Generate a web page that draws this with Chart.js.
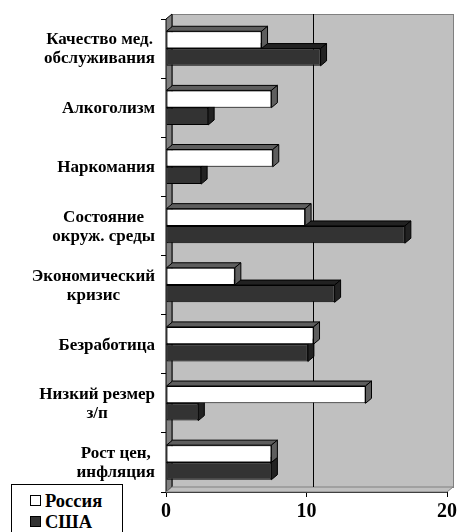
<!DOCTYPE html>
<html>
<head>
<meta charset="utf-8">
<script src="https://cdn.jsdelivr.net/npm/chart.js@4.4.1/dist/chart.umd.min.js"></script>
<style>
  html, body { margin: 0; padding: 0; background: #fff; }
  #wrap { position: relative; width: 460px; height: 532px; overflow: hidden; }
  canvas { position: absolute; left: 0; top: 0; }
  #legend { position: absolute; left: 11px; top: 484px; width: 112px; height: 60px;
    border: 1.5px solid #000; background: #fff; box-sizing: border-box;
    font: bold 18.5px "Liberation Serif", "Times New Roman", serif; color: #000; }
  .item { position: absolute; left: 18px; height: 21px; line-height: 21px; white-space: nowrap; }
  .sw { display: inline-block; width: 9px; height: 9px; border: 1px solid #000; margin-right: 4px; vertical-align: 1px; }
</style>
</head>
<body>
<div id="wrap">
  <canvas id="c" width="460" height="532"></canvas>
  <div id="legend"></div>
</div>
<script>
const categories = [
  ["Качество мед.", "обслуживания"],
  ["Алкоголизм"],
  ["Наркомания"],
  ["Состояние", "окруж. среды"],
  ["Экономический", "кризис"],
  ["Безработица"],
  ["Низкий резмер", "з/п"],
  ["Рост цен,", "инфляция"]
];
const seriesNames = ["Россия", "США"];
const russia = [6.8, 7.5, 7.6, 9.9, 4.9, 10.5, 14.2, 7.5];
const usa = [11.0, 3.0, 2.5, 17.0, 12.0, 10.1, 2.3, 7.5];
const xTicks = [0, 10, 20];

const FONT = '"Liberation Serif", "Times New Roman", serif';
const frontColors = ["#ffffff", "#333333"];
const faceColors = ["#5e5e5e", "#222222"];
const DX = 6, DY = 5;

// HTML legend
const legend = document.getElementById('legend');
seriesNames.forEach((n, i) => {
  const d = document.createElement('div');
  d.className = 'item';
  d.style.top = (6 + i * 21) + 'px';
  const s = document.createElement('span');
  s.className = 'sw';
  s.style.background = frontColors[i];
  d.appendChild(s);
  d.appendChild(document.createTextNode(n));
  legend.appendChild(d);
});

const threeD = {
  id: 'threeD',
  beforeDatasetsDraw(chart) {
    const ctx = chart.ctx;
    const a = chart.chartArea;
    const xs = chart.scales.x;
    ctx.save();
    // back wall
    ctx.fillStyle = '#c0c0c0';
    ctx.fillRect(a.left + DX, a.top - DY, a.right - a.left, a.bottom - a.top);
    ctx.strokeStyle = '#808080';
    ctx.lineWidth = 1;
    ctx.strokeRect(a.left + DX + 0.5, a.top - DY + 0.5, a.right - a.left, a.bottom - a.top);
    // left wall
    ctx.fillStyle = '#808080';
    ctx.beginPath();
    ctx.moveTo(a.left, a.top); ctx.lineTo(a.left + DX, a.top - DY);
    ctx.lineTo(a.left + DX, a.bottom - DY); ctx.lineTo(a.left, a.bottom);
    ctx.closePath(); ctx.fill();
    ctx.strokeStyle = '#000'; ctx.stroke();
    // floor
    ctx.fillStyle = '#c0c0c0';
    ctx.beginPath();
    ctx.moveTo(a.left, a.bottom); ctx.lineTo(a.left + DX, a.bottom - DY);
    ctx.lineTo(a.right + DX, a.bottom - DY); ctx.lineTo(a.right, a.bottom);
    ctx.closePath(); ctx.fill();
    ctx.strokeStyle = '#808080'; ctx.stroke();
    // gridline at 10 on back wall
    ctx.strokeStyle = '#000';
    ctx.lineWidth = 1;
    const gx = Math.round(xs.getPixelForValue(10)) + DX + 0.5;
    ctx.beginPath();
    ctx.moveTo(gx, a.top - DY); ctx.lineTo(gx, a.bottom - DY);
    ctx.stroke();
    // bar depth faces: USA first then Russia
    for (let di = chart.data.datasets.length - 1; di >= 0; di--) {
      const meta = chart.getDatasetMeta(di);
      meta.data.forEach(bar => {
        const p = bar.getProps(['x', 'y', 'base', 'height'], true);
        const top = p.y - p.height / 2, bot = p.y + p.height / 2;
        const l = Math.min(p.x, p.base), r = Math.max(p.x, p.base);
        ctx.fillStyle = faceColors[di];
        ctx.strokeStyle = '#000';
        ctx.lineWidth = 1;
        ctx.beginPath();
        ctx.moveTo(l, top); ctx.lineTo(l + DX, top - DY);
        ctx.lineTo(r + DX, top - DY); ctx.lineTo(r, top);
        ctx.closePath(); ctx.fill(); ctx.stroke();
        ctx.beginPath();
        ctx.moveTo(r, top); ctx.lineTo(r + DX, top - DY);
        ctx.lineTo(r + DX, bot - DY); ctx.lineTo(r, bot);
        ctx.closePath(); ctx.fill(); ctx.stroke();
      });
    }
    ctx.restore();
  },
  afterDraw(chart) {
    const ctx = chart.ctx;
    const ys = chart.scales.y;
    ctx.save();
    ctx.font = 'bold 17px ' + FONT;
    ctx.fillStyle = '#000';
    ctx.textAlign = 'center';
    ctx.textBaseline = 'middle';
    const lh = 19;
    categories.forEach((lines, i) => {
      const cy = ys.getPixelForValue(i) + 1;
      const mw = Math.max(...lines.map(t => ctx.measureText(t).width));
      const cx = 155 - mw / 2;
      lines.forEach((t, k) => {
        const y = cy + (k - (lines.length - 1) / 2) * lh;
        ctx.fillText(t, cx, y);
      });
    });
    ctx.restore();
  }
};

new Chart(document.getElementById('c'), {
  type: 'bar',
  data: {
    labels: categories,
    datasets: [
      { label: seriesNames[0], data: russia, backgroundColor: frontColors[0], borderColor: '#000', borderWidth: 1, borderSkipped: false },
      { label: seriesNames[1], data: usa, backgroundColor: frontColors[1], borderColor: '#000', borderWidth: 1, borderSkipped: false }
    ]
  },
  options: {
    indexAxis: 'y',
    responsive: false,
    animation: false,
    devicePixelRatio: 1,
    categoryPercentage: 0.585,
    barPercentage: 1,
    layout: { padding: { left: 0, top: 19, right: 10, bottom: 0 } },
    plugins: { legend: { display: false }, tooltip: { enabled: false } },
    scales: {
      x: {
        min: 0, max: 20,
        afterBuildTicks(s) { s.ticks = xTicks.map(v => ({ value: v })); },
        afterFit(s) { s.height = 40; },
        ticks: { color: '#000', font: { family: FONT, size: 20, weight: 'bold' }, padding: 3, maxRotation: 0 },
        grid: { drawOnChartArea: false, drawTicks: true, tickLength: 5, color: '#000' },
        border: { display: true, color: '#000', width: 1 }
      },
      y: {
        afterFit(s) { s.width = 166; },
        ticks: { display: false },
        grid: { drawOnChartArea: false, drawTicks: true, tickLength: 5, color: '#000', offset: true },
        border: { display: true, color: '#000', width: 1 }
      }
    }
  },
  plugins: [threeD]
});
</script>
</body>
</html>
